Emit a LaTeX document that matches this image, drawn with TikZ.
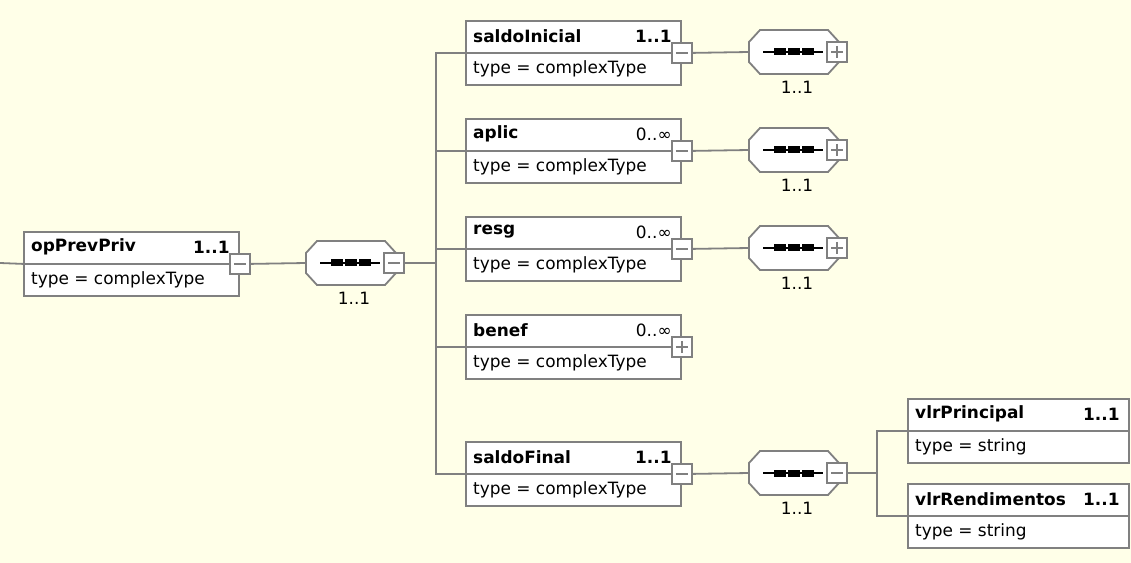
\documentclass[tikz,border=0pt]{standalone}
\usepackage{fontspec}
\setmainfont{DejaVu Sans}
\usetikzlibrary{calc}
\definecolor{bgcol}{RGB}{255,255,232}
\definecolor{linegray}{RGB}{128,128,128}
\definecolor{boxgray}{RGB}{128,128,128}
\newcommand\elembox[8]{% name, left, top, width, height, title, card, type
  \node[boxframe, anchor=north west, minimum width=#4bp, minimum height=#5bp, inner sep=0pt] (#1) at (#2,#3) {};
  \draw[boxframe] (#1.west) -- (#1.east);
  \node[lbl, font=\txtfont\bfseries, anchor=west] (#1-title) at ($(#1.north west)+(8,16)$) {#6};
  \node[lbl, font=\txtfont\bfseries, anchor=east] (#1-card) at ($(#1.north east)+(-10,16)$) {#7};
  \node[lbl, anchor=west] (#1-type) at ($(#1.west)+(8,16)$) {#8};
}
\newcommand\btnminus[2]{% name, at
  \node[btn] (#1) at (#2) {};
  \draw[signline] ($(#1.center)+(-6,0)$) -- ($(#1.center)+(6,0)$);
}
\newcommand\btnplus[2]{%
  \node[btn] (#1) at (#2) {};
  \draw[signline] ($(#1.center)+(-6,0)$) -- ($(#1.center)+(6,0)$);
  \draw[signline] ($(#1.center)+(0,-6)$) -- ($(#1.center)+(0,6)$);
}
\newcommand\seqgrp[4]{% name, left, center y, sign (minus/plus)
  \coordinate (#1-w) at (#2,#3);
  \draw[boxframe] ($(#1-w)+(0,-10)$) -- ++(11,-12) -- ++(68,0) -- ++(11,12) -- ++(0,20) -- ++(-11,12) -- ++(-68,0) -- ++(-11,-12) -- cycle;
  \draw[black, line width=1.6bp] ($(#1-w)+(14,0)$) -- ($(#1-w)+(74,0)$);
  \fill[black] ($(#1-w)+(25,-3.5)$) rectangle ++(12,7);
  \fill[black] ($(#1-w)+(39,-3.5)$) rectangle ++(12,7);
  \fill[black] ($(#1-w)+(53,-3.5)$) rectangle ++(12,7);
  \csname btn#4\endcsname{#1-btn}{$(#1-w)+(88,0)$}
  \node[lbl] (#1-card) at ($(#1-w)+(48,35)$) {1..1};
}
\newcommand\txtfont{\fontsize{17}{20}\selectfont}
\begin{document}
\begin{tikzpicture}[x=1bp,y=-1bp,
  conn/.style={draw=linegray, line width=1.8bp},
  boxframe/.style={draw=boxgray, fill=white, line width=1.8bp},
  btn/.style={draw=boxgray, fill=white, line width=1.6bp, minimum size=20bp, inner sep=0pt},
  signline/.style={draw=boxgray, line width=1.5bp},
  lbl/.style={inner sep=0pt, font=\txtfont, text=black}]
\fill[bgcol] (0,0) rectangle (1131,563);
\useasboundingbox (0,0) rectangle (1131,563);

% root element
\coordinate (start) at (0,263);
\coordinate (bus1) at (436,263);
\coordinate (bus2) at (877,473);
\elembox{opPrevPriv}{23}{231}{215}{64}{opPrevPriv}{1..1}{type = complexType}
\draw[conn] (start) -- (opPrevPriv.west);
\btnminus{opPrevPriv-btn}{opPrevPriv.east}
\seqgrp{seqA}{306}{263}{minus}
\draw[conn] (opPrevPriv-btn.east) -- (seqA-w);
\draw[conn] (seqA-btn.east) -- (bus1);

% children
\elembox{saldoInicial}{465}{20}{215}{64}{saldoInicial}{1..1}{type = complexType}
\elembox{aplic}{465}{118}{215}{64}{aplic}{\mdseries 0..∞}{type = complexType}
\elembox{resg}{465}{216}{215}{64}{resg}{\mdseries 0..∞}{type = complexType}
\elembox{benef}{465}{314}{215}{64}{benef}{\mdseries 0..∞}{type = complexType}
\elembox{saldoFinal}{465}{441}{215}{64}{saldoFinal}{1..1}{type = complexType}
\btnminus{saldoInicial-btn}{saldoInicial.east}
\btnminus{aplic-btn}{aplic.east}
\btnminus{resg-btn}{resg.east}
\btnplus{benef-btn}{benef.east}
\btnminus{saldoFinal-btn}{saldoFinal.east}
\draw[conn] (bus1) |- (saldoInicial.west);
\draw[conn] (bus1) |- (aplic.west);
\draw[conn] (bus1) |- (resg.west);
\draw[conn] (bus1) |- (benef.west);
\draw[conn] (bus1) |- (saldoFinal.west);

% right sequences
\seqgrp{seqB}{749}{52}{plus}
\seqgrp{seqC}{749}{150}{plus}
\seqgrp{seqD}{749}{248}{plus}
\seqgrp{seqE}{749}{473}{minus}
\draw[conn] (saldoInicial-btn.east) -- (seqB-w);
\draw[conn] (aplic-btn.east) -- (seqC-w);
\draw[conn] (resg-btn.east) -- (seqD-w);
\draw[conn] (saldoFinal-btn.east) -- (seqE-w);
\draw[conn] (seqE-btn.east) -- (bus2);

% leaves
\elembox{vlrPrincipal}{907}{398}{221}{64}{vlrPrincipal}{1..1}{type = string}
\elembox{vlrRendimentos}{907}{483}{221}{64}{vlrRendimentos}{1..1}{type = string}
\draw[conn] (bus2) |- (vlrPrincipal.west);
\draw[conn] (bus2) |- (vlrRendimentos.west);
\end{tikzpicture}
\end{document}
